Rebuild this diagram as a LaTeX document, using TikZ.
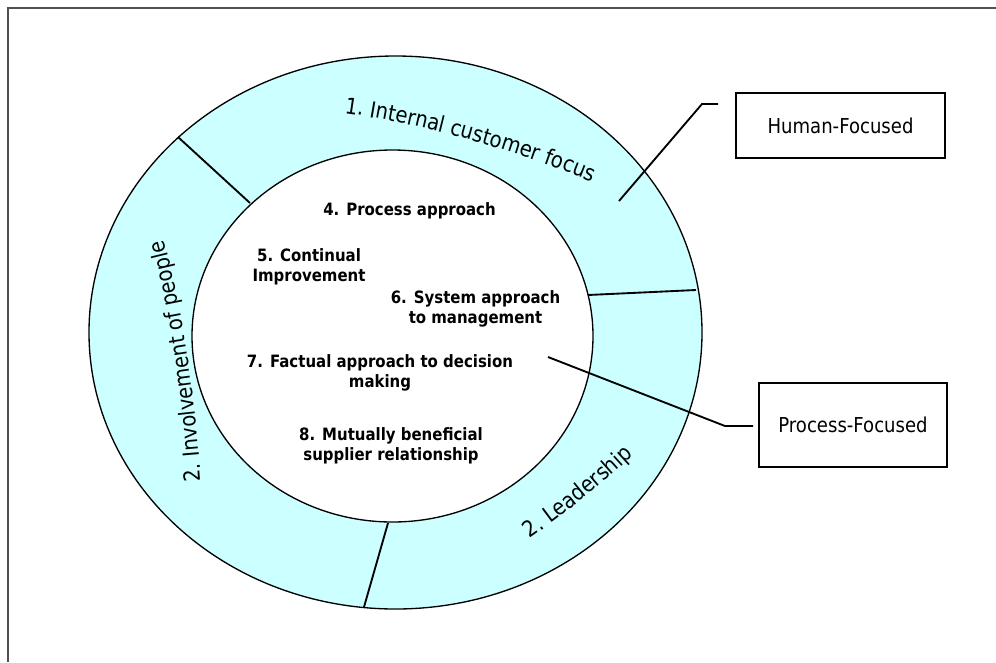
\documentclass[tikz,border=0pt]{standalone}
\usepackage{fontspec}
\setmainfont{DejaVu Sans}[FakeStretch=0.88]
\usetikzlibrary{decorations.text}
\definecolor{ringcyan}{RGB}{204,255,255}
\definecolor{framegray}{RGB}{80,80,80}
\newcommand{\ringfont}{\fontsize{16.7}{19}\selectfont}
\tikzset{
    ring/.style = {draw=black, line width=1pt},
    divider/.style = {draw=black, line width=1.4pt},
    callout/.style = {draw=black, line width=1.4pt},
    frameline/.style = {draw=framegray, line width=1.1pt},
    principle/.style = {align=center, inner sep=0pt, font=\bfseries\fontsize{12.75}{15}\selectfont},
    focusbox/.style = {rectangle, draw=black, line width=1.5pt, font=\fontsize{15.4}{18}\selectfont},
    ringlabel/.style = {decorate, decoration={text along path, text align=center, text={|\ringfont|#1}}},
}

\begin{document}
\begin{tikzpicture}[x=0.75pt, y=0.75pt]
\useasboundingbox (0,0) rectangle (996,-662);
\draw[frameline] (8,-662) -- (8,-8) -- (996,-8);
% ring
\fill[ringcyan] (395.5,-332.5) ellipse [x radius=229.875pt, y radius=207.375pt];
\draw[ring] (395.5,-332.5) ellipse [x radius=229.875pt, y radius=207.375pt];
\filldraw[ring, fill=white] (392.5,-336) ellipse [x radius=150.375pt, y radius=139.5pt];
\draw[divider] (178,-137) -- (250,-203);
\draw[divider] (588,-295) -- (696,-290);
\draw[divider] (388,-523) -- (364,-607);
%
\path[ringlabel={1. Internal customer focus}] (336,-112) .. controls (426,-124) and (512,-149) .. (600,-185);
\path[ringlabel={2. Involvement of people}] (202,-500) .. controls (197.5,-410) and (183.8,-308.5) .. (159,-222);
\path[ringlabel={2. Leadership}] (521,-544.5) .. controls (562.5,-516.5) and (605,-482.2) .. (641,-447.5);
%
\node[principle] at (409.5,-210.5) (p4) {4. Process approach};
\node[principle] at (309,-266.8) (p5) {5. Continual\\Improvement};
\node[principle] at (475.5,-309.3) (p6) {6. System approach\\to management};
\node[principle] at (380,-373.3) (p7) {7. Factual approach to decision\\making};
\node[principle] at (391,-445.5) (p8) {8. Mutually beneficial\\supplier relationship};
%
\node[focusbox, minimum width=156.75pt, minimum height=48.75pt] at (840.5,-125.5) (human) {Human-Focused};
\node[focusbox, minimum width=141pt, minimum height=63pt] at (853,-425) (process) {Process-Focused};
%
\coordinate (humanTip) at (619,-201);
\coordinate (humanBend) at (702,-104);
\coordinate (humanEnd) at (718,-104);
\draw[callout] (humanTip) -- (humanBend) -- (humanEnd);
\coordinate (processTip) at (548,-357);
\coordinate (processBend) at (725,-426);
\coordinate (processEnd) at (753,-426);
\draw[callout] (processTip) -- (processBend) -- (processEnd);

\end{tikzpicture}
\end{document}
